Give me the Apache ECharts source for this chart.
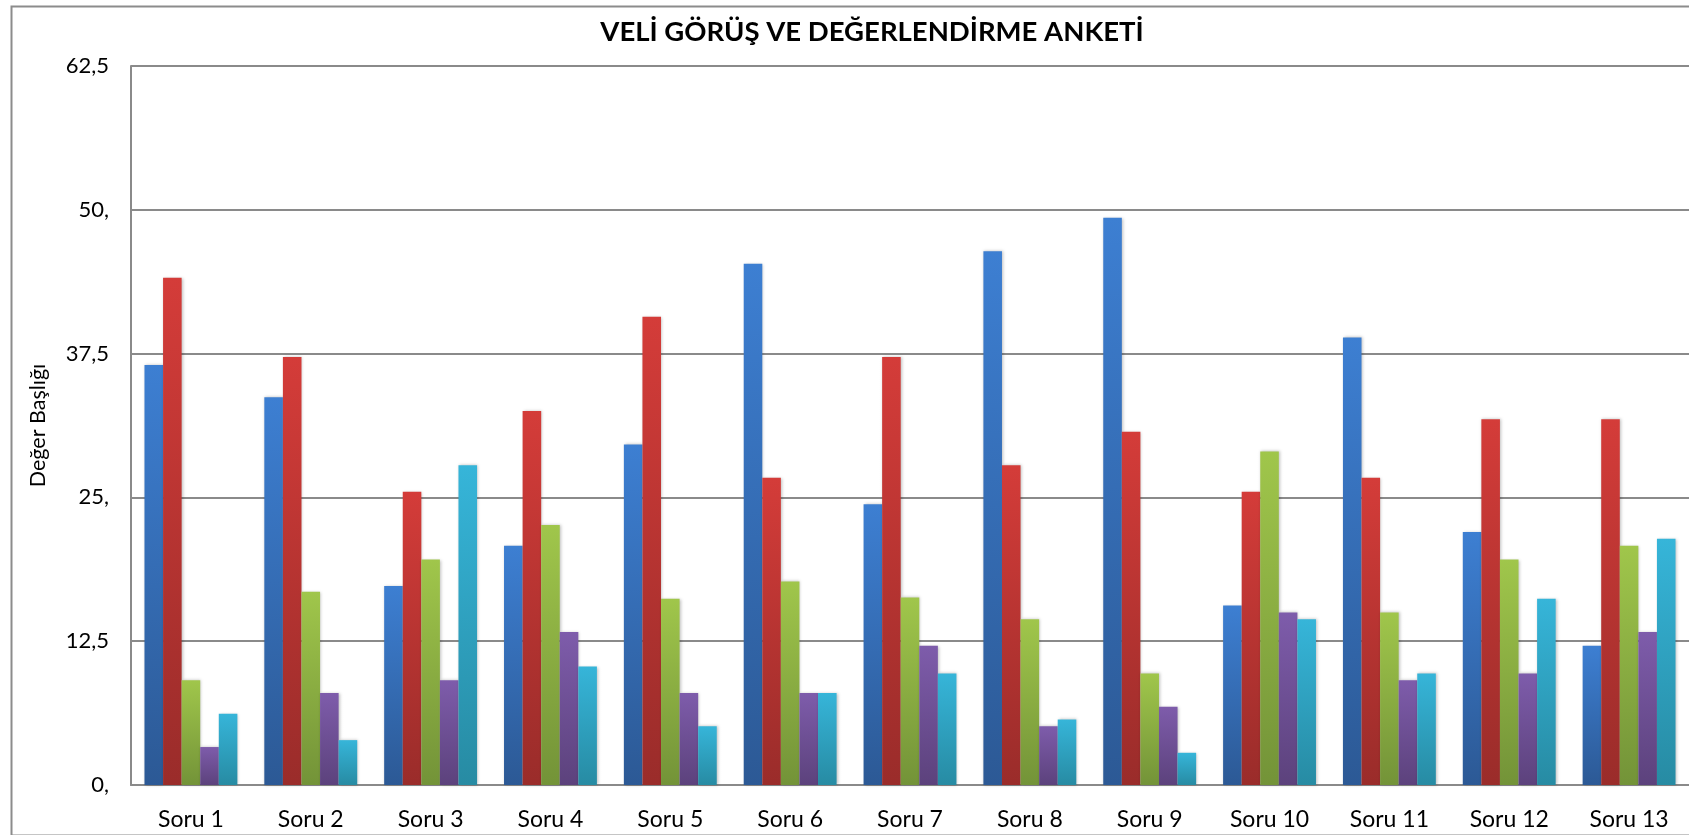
<!DOCTYPE html>
<html>
<head>
<meta charset="utf-8">
<script src="https://cdn.jsdelivr.net/npm/echarts@6/dist/echarts.min.js"></script>
<style>
html,body{margin:0;padding:0;background:#fff;}
#chart{width:1689px;height:835px;}
</style>
</head>
<body>
<div id="chart"></div>
<script>
const chartTitle = 'VELİ GÖRÜŞ VE DEĞERLENDİRME ANKETİ';
const yAxisTitle = 'Değer Başlığı';
const categories = ['Soru 1','Soru 2','Soru 3','Soru 4','Soru 5','Soru 6','Soru 7','Soru 8','Soru 9','Soru 10','Soru 11','Soru 12','Soru 13'];
const yTickLabels = ['0,','12,5','25,','37,5','50,','62,5'];
const seriesNames = ['Kesinlikle Katılıyorum','Katılıyorum','Kısmen Katılıyorum','Katılmıyorum','Kesinlikle Katılmıyorum'];
const s1 = [36.5, 33.7, 17.3, 20.8, 29.6, 45.3, 24.4, 46.4, 49.3, 15.6, 38.9, 22.0, 12.1];
const s2 = [44.1, 37.2, 25.5, 32.5, 40.7, 26.7, 37.2, 27.8, 30.7, 25.5, 26.7, 31.8, 31.8];
const s3 = [9.1, 16.8, 19.6, 22.6, 16.2, 17.7, 16.3, 14.4, 9.7, 29.0, 15.0, 19.6, 20.8];
const s4 = [3.3, 8.0, 9.1, 13.3, 8.0, 8.0, 12.1, 5.1, 6.8, 15.0, 9.1, 9.7, 13.3];
const s5 = [6.2, 3.9, 27.8, 10.3, 5.1, 8.0, 9.7, 5.7, 2.8, 14.4, 9.7, 16.2, 21.4];
const seriesValues = [s1, s2, s3, s4, s5];

const gradients = [
  ['#3d7fd2', '#2c5995'],
  ['#d43c39', '#9a2c2a'],
  ['#a0c64b', '#739338'],
  ['#7e5cab', '#5c427c'],
  ['#36b5d9', '#278ba3']
];

const FONT = 'Lato';
const chart = echarts.init(document.getElementById('chart'));
const option = {
  animation: false,
  backgroundColor: '#ffffff',
  textStyle: { fontFamily: FONT },
  title: {
    text: chartTitle,
    left: 867, top: 13,
    textAlign: 'center',
    textStyle: { fontFamily: FONT, fontSize: 27.5, fontWeight: 'bold', color: '#000' }
  },
  graphic: [{
    type: 'rect', left: 9, top: 4, silent: true, z: -1,
    shape: { width: 1760, height: 829 },
    style: { fill: 'none', stroke: '#8c8c8c', lineWidth: 2 }
  }],
  grid: { left: 131, top: 66, width: 1565, height: 719, containLabel: false },
  xAxis: {
    type: 'category',
    data: categories,
    axisTick: { show: false },
    axisLine: { lineStyle: { color: '#8a8a8a', width: 2 } },
    axisLabel: { color: '#000', fontSize: 23, fontFamily: FONT, margin: 23 }
  },
  yAxis: {
    type: 'value',
    min: 0, max: 62.5, interval: 12.5,
    name: yAxisTitle,
    nameLocation: 'middle',
    nameGap: 82,
    nameRotate: 90,
    nameTextStyle: { fontSize: 21.5, color: '#000', fontFamily: FONT },
    axisLine: { show: true, lineStyle: { color: '#8a8a8a', width: 2 } },
    axisTick: { show: false },
    splitLine: { lineStyle: { color: '#8a8a8a', width: 2 } },
    axisLabel: {
      color: '#000', fontSize: 22, fontFamily: FONT, margin: 22,
      formatter: v => yTickLabels[Math.round(v / 12.5)]
    }
  },
  series: seriesValues.map((vals, i) => ({
    type: 'bar',
    name: seriesNames[i],
    data: vals,
    barGap: '0%',
    barCategoryGap: '22.5%',
    itemStyle: {
      color: new echarts.graphic.LinearGradient(0, 0, 0, 1, [
        { offset: 0, color: gradients[i][0] },
        { offset: 1, color: gradients[i][1] }
      ]),
      shadowColor: 'rgba(0,0,0,0.25)', shadowBlur: 3, shadowOffsetX: 1
    }
  }))
};
chart.setOption(option);
</script>
</body>
</html>
